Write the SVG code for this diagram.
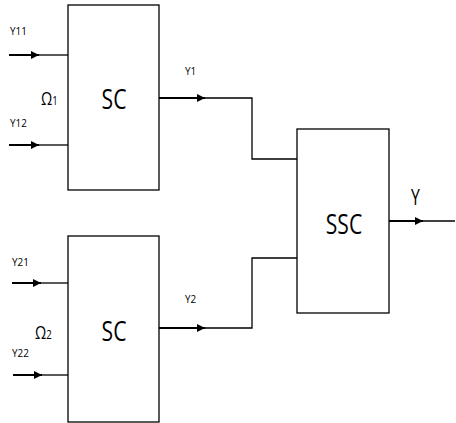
<svg xmlns="http://www.w3.org/2000/svg" width="456" height="423" viewBox="0 0 456 423">
<style>
.box{fill:#fff;stroke:#000;stroke-width:1.3}
.ln{fill:none;stroke:#000;stroke-width:1.3}
.in{fill:none;stroke:#000;stroke-width:2}
.sm{font-family:"Open Sans","Liberation Sans",sans-serif;font-size:11px;fill:#000}
.big{font-family:"Open Sans","Liberation Sans",sans-serif;font-size:27px;fill:#000;text-anchor:middle}
.om{font-family:"Open Sans","Liberation Sans",sans-serif;font-size:18px;fill:#000}
.yo{font-family:"Open Sans","Liberation Sans",sans-serif;font-size:21px;fill:#000}
</style>
<defs>
<marker id="ah" viewBox="0 0 10 10" refX="10" refY="5" markerWidth="9" markerHeight="8" markerUnits="userSpaceOnUse" orient="auto">
<path d="M0,0 L10,5 L0,10 Z" fill="#000"/>
</marker>
</defs>
<g id="sc1">
<rect class="box" x="68" y="5" width="91" height="185"/>
<text class="big" transform="translate(114,109) scale(0.78,1)">SC</text>
<text class="om" transform="translate(41,105) scale(0.8,1)">Ω<tspan font-size="12">1</tspan></text>
</g>
<g id="sc2">
<rect class="box" x="68" y="236" width="91" height="186"/>
<text class="big" transform="translate(114,341) scale(0.78,1)">SC</text>
<text class="om" transform="translate(35,339) scale(0.8,1)">Ω<tspan font-size="12">2</tspan></text>
</g>
<g id="ssc">
<rect class="box" x="297" y="129" width="92" height="184"/>
<text class="big" transform="translate(344,234) scale(0.78,1)">SSC</text>
</g>
<g id="connectors">
<line class="in" x1="9" y1="55" x2="39" y2="55" marker-end="url(#ah)"/>
<line class="ln" x1="38" y1="55" x2="68" y2="55"/>
<line class="in" x1="9" y1="145" x2="39" y2="145" marker-end="url(#ah)"/>
<line class="ln" x1="38" y1="145" x2="68" y2="145"/>
<line class="in" x1="12" y1="283" x2="41" y2="283" marker-end="url(#ah)"/>
<line class="ln" x1="40" y1="283" x2="68" y2="283"/>
<line class="in" x1="13" y1="375" x2="42" y2="375" marker-end="url(#ah)"/>
<line class="ln" x1="41" y1="375" x2="68" y2="375"/>
<line class="in" x1="159" y1="98" x2="205" y2="98" marker-end="url(#ah)"/>
<polyline class="ln" points="204,98 252,98 252,159 297,159"/>
<line class="in" x1="159" y1="328" x2="205" y2="328" marker-end="url(#ah)"/>
<polyline class="ln" points="204,328 252,328 252,258 297,258"/>
<line class="in" x1="389" y1="221" x2="423" y2="221" marker-end="url(#ah)"/>
<line class="ln" x1="422" y1="221" x2="455" y2="221"/>
<text class="sm" transform="translate(10,35) scale(0.9,1)">Y11</text>
<text class="sm" transform="translate(10,127) scale(0.9,1)">Y12</text>
<text class="sm" transform="translate(12,266) scale(0.9,1)">Y21</text>
<text class="sm" transform="translate(12,357) scale(0.9,1)">Y22</text>
<text class="sm" transform="translate(185,75) scale(0.9,1)">Y1</text>
<text class="sm" transform="translate(185,303) scale(0.9,1)">Y2</text>
<text class="yo" transform="translate(411,205) scale(0.75,1)">Y</text>
</g>
</svg>
